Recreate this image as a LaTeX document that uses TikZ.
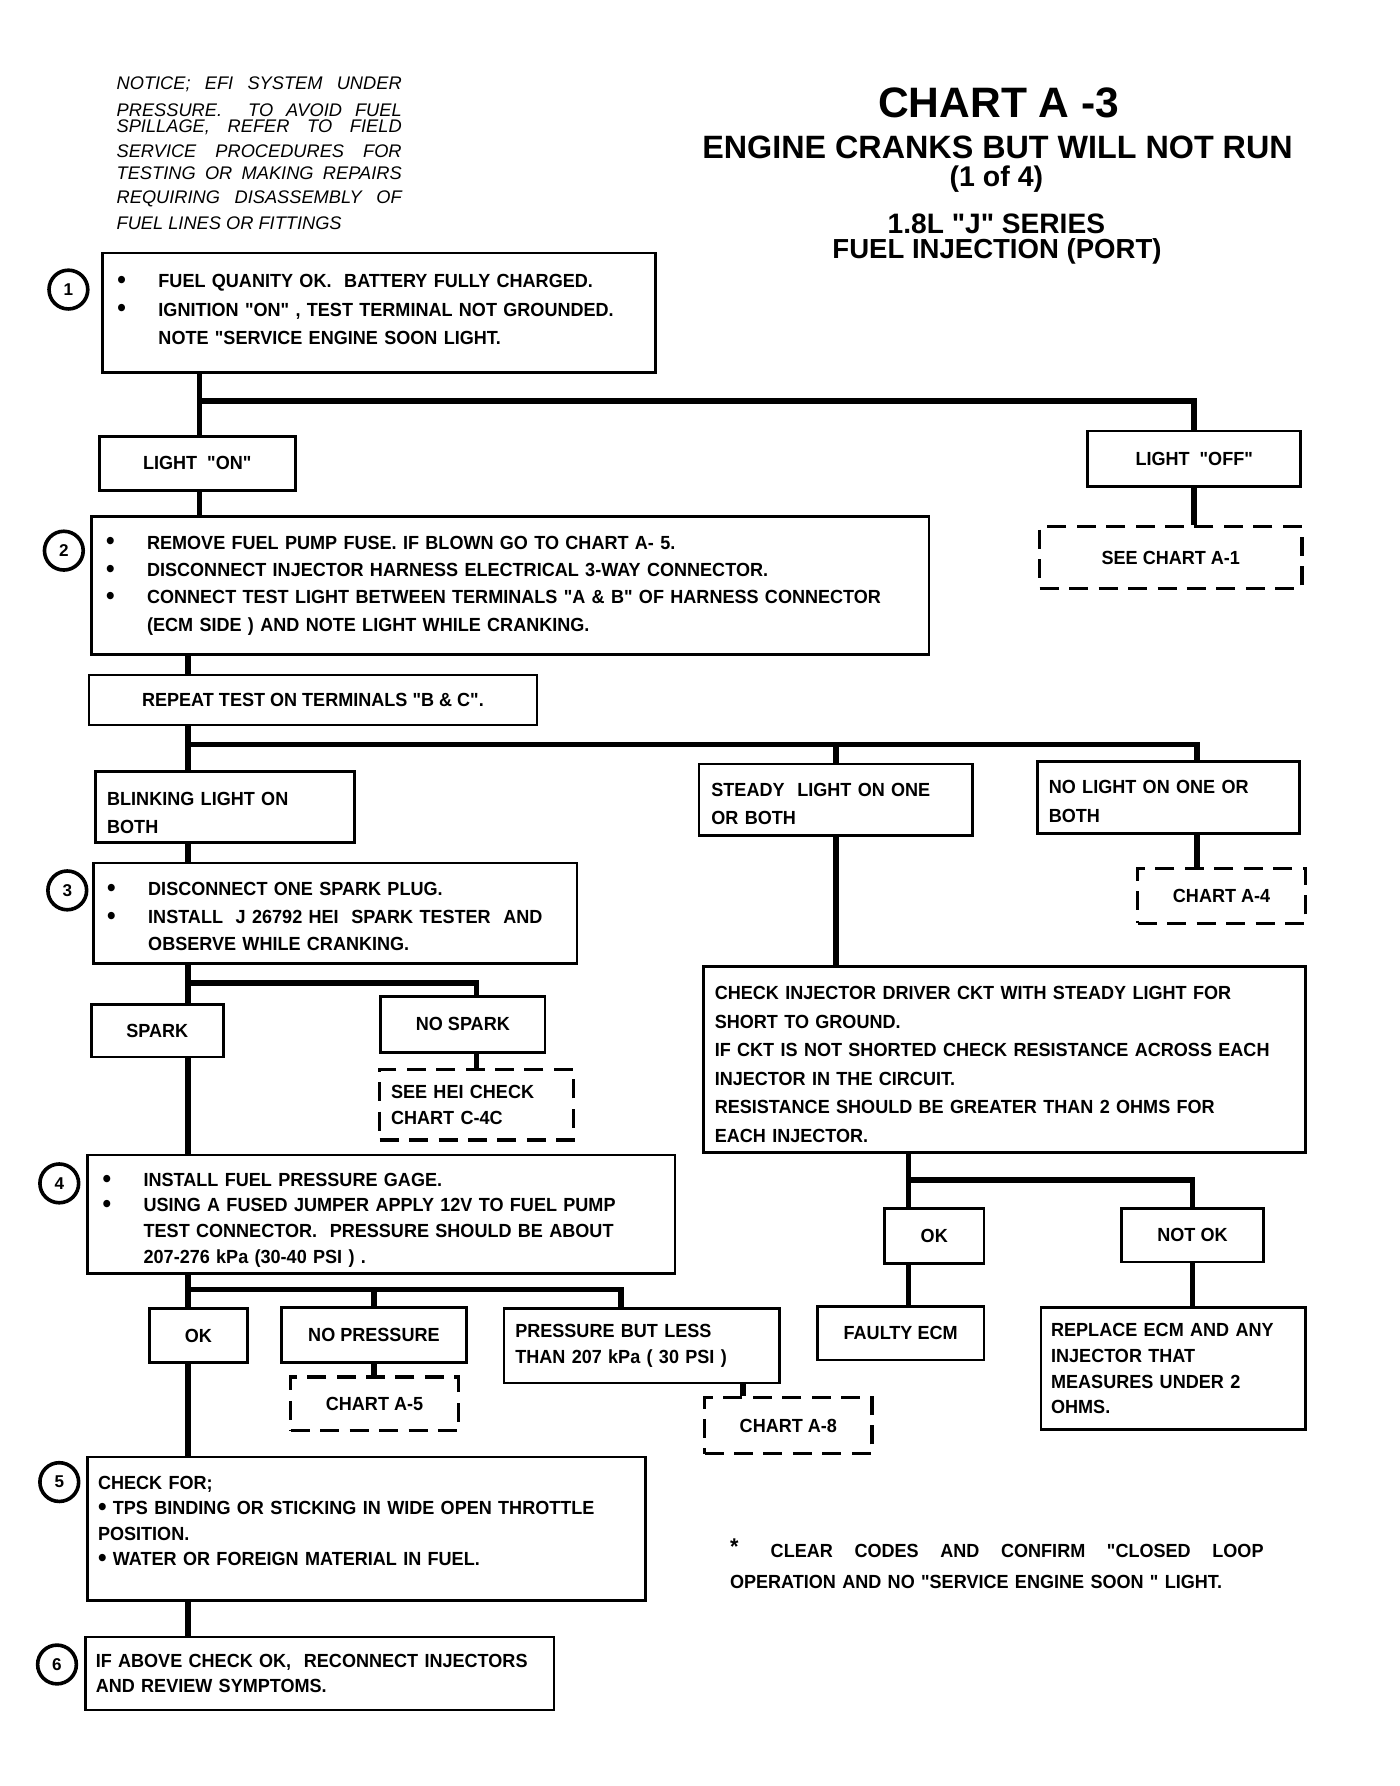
\documentclass[tikz,border=0pt]{standalone}
\usepackage{fontspec}
\setmainfont{Liberation Sans}[Ligatures=TeXOff]
\newfontfamily\boxfont{Liberation Sans}[FakeStretch=0.95,Ligatures=TeXOff]
\newlength\upx
\setlength\upx{0.6pt}
\newcommand\dotmark{\raisebox{-0.4pt}{\scalebox{1.35}{\textbullet}}}
\newcommand\bul{\makebox[36\upx][l]{\dotmark}}
\newcommand\ind{\hspace*{36\upx}}
\newcommand\jline[1]{\makebox[250\upx][s]{#1}}
\newcommand\lift[1]{\rule{0pt}{#1}}
\newcommand\sink[1]{\rule[-#1]{0pt}{#1}}

\begin{document}
\begin{tikzpicture}[x=0.6pt,y=-0.6pt,
  box/.style={draw,line width=1.4pt,inner xsep=0pt,inner ysep=0pt,
    font=\boxfont\bfseries\fontsize{10}{14.4}\selectfont},
  tbox/.style={box,align=left},
  cbox/.style={box,align=center},
  dbox/.style={cbox,dash pattern=on 10pt off 5.5pt,line width=1.8pt},
  tight/.style={font=\boxfont\bfseries\fontsize{10}{13.5}\selectfont},
  wide/.style={font=\boxfont\bfseries\fontsize{10}{15}\selectfont},
  link/.style={line width=3pt},
  num/.style={circle,draw,line width=1.9pt,minimum size=20.4pt,inner sep=0pt,
    font=\bfseries\fontsize{9}{9}\selectfont}]
  \useasboundingbox (0,0) rectangle (1228,1566.6);
  % Heading and notice
  \node[anchor=north west,inner sep=0pt,align=left,
    font=\itshape\fontsize{9.6}{12}\selectfont] (notice) at (102,67)
    {\jline{NOTICE; EFI SYSTEM UNDER}\\[2.4pt]
     \jline{PRESSURE. \ TO AVOID FUEL}\\[-3.6pt]
     \jline{SPILLAGE, REFER TO FIELD}\\[1.2pt]
     \jline{SERVICE PROCEDURES FOR}\\[-0.6pt]
     \jline{TESTING OR MAKING REPAIRS}\\[0.6pt]
     \jline{REQUIRING DISASSEMBLY OF}\\[1.8pt]
     FUEL LINES OR FITTINGS};
  \node[anchor=base,inner sep=0pt,font=\bfseries\fontsize{22.4}{24}\selectfont]
    (chart) at (876,103) {CHART A -3};
  \node[anchor=base,inner sep=0pt,font=\bfseries\fontsize{17}{18}\selectfont]
    (title) at (875,139) {ENGINE CRANKS BUT WILL NOT RUN};
  \node[anchor=base,inner sep=0pt,font=\bfseries\fontsize{15}{18}\selectfont]
    (part) at (874,164) {(1 of 4)};
  \node[anchor=base,inner sep=0pt,font=\bfseries\fontsize{14.8}{16}\selectfont]
    (series) at (874,205) {1.8L "J" SERIES};
  \node[anchor=base,inner sep=0pt,font=\bfseries\fontsize{14.5}{16}\selectfont]
    (inj) at (874.5,227) {FUEL INJECTION (PORT)};
  % Step numbers
  \node[num] (c1) at (60,254) {1};
  \node[num] (c2) at (56,483) {2};
  \node[num] (c3) at (59,781) {3};
  \node[num] (c4) at (52,1038) {4};
  \node[num] (c5) at (52,1300) {5};
  \node[num] (c6) at (50,1460) {6};
  % Left column
  \node[tbox,wide,minimum width=485\upx,minimum height=105\upx,text width=459\upx] (s1) at (332.5,274.5)
    {\bul FUEL QUANITY OK. \ BATTERY FULLY CHARGED.\\
     \bul IGNITION "ON" , TEST TERMINAL NOT GROUNDED.\\
     \ind NOTE "SERVICE ENGINE SOON LIGHT.\sink{3.6pt}};
  \node[cbox,minimum width=172\upx,minimum height=47\upx] (lon) at (173,406.5) {LIGHT \ "ON"};
  \node[cbox,minimum width=187\upx,minimum height=49\upx] (loff) at (1047.5,402.5) {LIGHT \ "OFF"};
  \node[dbox,minimum width=230\upx,minimum height=54\upx] (seeA1) at (1027,489) {SEE CHART A-1};
  \node[tbox,minimum width=735\upx,minimum height=121\upx,text width=709\upx] (s2) at (447.5,513.5)
    {\bul REMOVE FUEL PUMP FUSE. IF BLOWN GO TO CHART A- 5.\\
     \bul DISCONNECT INJECTOR HARNESS ELECTRICAL 3-WAY CONNECTOR.\\
     \bul CONNECT TEST LIGHT BETWEEN TERMINALS "A \& B" OF HARNESS CONNECTOR\\
     \ind (ECM SIDE ) AND NOTE LIGHT WHILE CRANKING.};
  \node[cbox,minimum width=393\upx,minimum height=44\upx] (rep) at (274.5,614)
    {REPEAT TEST ON TERMINALS "B \& C".};
  \node[tbox,wide,minimum width=227\upx,minimum height=62\upx,text width=207\upx] (blink) at (197.5,708)
    {\lift{13.2pt}BLINKING LIGHT ON\\ BOTH};
  \node[tbox,wide,minimum width=240\upx,minimum height=63\upx,text width=218\upx] (steady) at (733,701.5)
    {\lift{11.4pt}STEADY \ LIGHT ON ONE\\ OR BOTH};
  \node[tbox,wide,minimum width=230\upx,minimum height=63\upx,text width=210\upx] (nolight) at (1025,699.5)
    {\lift{11.4pt}NO LIGHT ON ONE OR\\ BOTH};
  \node[dbox,minimum width=147\upx,minimum height=48\upx] (A4) at (1071.5,786) {CHART A-4};
  \node[tbox,minimum width=424\upx,minimum height=88\upx,text width=400\upx] (s3) at (294,801)
    {\lift{10.8pt}\bul DISCONNECT ONE SPARK PLUG.\\
     \bul INSTALL \ J 26792 HEI \ SPARK TESTER \ AND\\
     \ind OBSERVE WHILE CRANKING.};
  \node[cbox,minimum width=116\upx,minimum height=46\upx] (spark) at (138,904) {SPARK};
  \node[cbox,minimum width=144\upx,minimum height=49\upx] (nospark) at (406,898.5) {NO SPARK};
  \node[dbox,align=left,minimum width=170\upx,minimum height=62\upx,text width=150\upx,
    font=\boxfont\bfseries\fontsize{10}{13.8}\selectfont] (hei) at (418,969)
    {SEE HEI CHECK\\ CHART C-4C};
  \node[tbox,wide,minimum width=528\upx,minimum height=163\upx,text width=508\upx] (chk) at (881,929.5)
    {\lift{12pt}CHECK INJECTOR DRIVER CKT WITH STEADY LIGHT FOR\\
     SHORT TO GROUND.\\
     IF CKT IS NOT SHORTED CHECK RESISTANCE ACROSS EACH\\
     INJECTOR IN THE CIRCUIT.\\
     RESISTANCE SHOULD BE GREATER THAN 2 OHMS FOR\\
     EACH INJECTOR.};
  \node[tbox,tight,minimum width=515\upx,minimum height=104\upx,text width=489\upx] (s4) at (334.5,1065)
    {\lift{13.2pt}\bul INSTALL FUEL PRESSURE GAGE.\\
     \bul USING A FUSED JUMPER APPLY 12V TO FUEL PUMP\\
     \ind TEST CONNECTOR. \ PRESSURE SHOULD BE ABOUT\\
     \ind 207-276 kPa (30-40 PSI ) .};
  \node[cbox,minimum width=86\upx,minimum height=47\upx] (ok1) at (174,1171.5) {OK};
  \node[cbox,minimum width=162\upx,minimum height=48\upx] (nopress) at (328,1171) {NO PRESSURE};
  \node[tbox,tight,minimum width=242\upx,minimum height=65\upx,text width=222\upx] (less) at (563,1180.5)
    {PRESSURE BUT LESS\\ THAN 207 kPa ( 30 PSI )};
  \node[dbox,minimum width=147\upx,minimum height=47\upx] (A5) at (328.5,1231.5) {CHART A-5};
  \node[dbox,minimum width=147\upx,minimum height=49\upx] (A8) at (691.5,1250.5) {CHART A-8};
  \node[cbox,minimum width=87\upx,minimum height=48\upx] (ok2) at (819.5,1084) {OK};
  \node[cbox,minimum width=124\upx,minimum height=47\upx] (notok) at (1046,1083.5) {NOT OK};
  \node[cbox,minimum width=146\upx,minimum height=47\upx] (faulty) at (790,1169.5) {FAULTY ECM};
  \node[tbox,tight,minimum width=232\upx,minimum height=107\upx,text width=214\upx] (repl) at (1029,1200.5)
    {REPLACE ECM AND ANY\\ INJECTOR THAT\\ MEASURES UNDER 2\\ OHMS.};
  \node[tbox,tight,minimum width=489\upx,minimum height=126\upx,text width=471\upx] (s5) at (321.5,1341)
    {CHECK FOR;\\
     \dotmark\ TPS BINDING OR STICKING IN WIDE OPEN THROTTLE\\
     POSITION.\\
     \dotmark\ WATER OR FOREIGN MATERIAL IN FUEL.\sink{8.4pt}};
  \node[tbox,tight,minimum width=411\upx,minimum height=64\upx,text width=393\upx] (s6) at (280.5,1468)
    {IF ABOVE CHECK OK, \ RECONNECT INJECTORS\\ AND REVIEW SYMPTOMS.};
  % Footnote
  \node[anchor=north west,inner sep=0pt,align=left,text width=468\upx,
    font=\boxfont\bfseries\fontsize{10}{16.2}\selectfont] (note) at (640,1349)
    {\makebox[468\upx][l]{\raisebox{2pt}{\large *}\hspace{17pt}CLEAR\hfill CODES\hfill
       AND\hfill CONFIRM\hfill "CLOSED\hfill LOOP}\\
     OPERATION AND NO "SERVICE ENGINE SOON " LIGHT.};
  % Connectors
  \coordinate (j1) at (175,352);
  \draw[link] (j1 |- s1.south) -- (j1 |- lon.north);
  \draw[link] (j1) -| (loff.north);
  \draw[link] (j1 |- lon.south) -- (j1 |- s2.north);
  \draw[link] (loff.south) -- (loff.south |- seeA1.north);
  \coordinate (j2) at (165,653);
  \coordinate (j2r) at (1050,653);
  \draw[link] (j2 |- s2.south) -- (j2 |- rep.north);
  \draw[link] (j2 |- rep.south) -- (j2 |- blink.north);
  \draw[link] (j2) -- (j2r) -- (j2r |- nolight.north);
  \draw[link] (steady.north |- j2) -- (steady.north);
  \draw[link] (j2r |- nolight.south) -- (j2r |- A4.north);
  \draw[link] (steady.south) -- (steady.south |- chk.north);
  \draw[link] (j2 |- blink.south) -- (j2 |- s3.north);
  \coordinate (j3) at (165,862);
  \coordinate (j3r) at (418,862);
  \draw[link] (j3 |- s3.south) -- (j3 |- spark.north);
  \draw[link] (j3) -- (j3r) -- (j3r |- nospark.north);
  \draw[link] (j3r |- nospark.south) -- (j3r |- hei.north);
  \draw[link] (j3 |- spark.south) -- (j3 |- s4.north);
  \coordinate (j4) at (165,1131);
  \coordinate (j4r) at (545,1131);
  \draw[link] (j4 |- s4.south) -- (j4 |- ok1.north);
  \draw[link] (j4) -- (j4r) -- (j4r |- less.north);
  \draw[link] (nopress.north |- j4) -- (nopress.north);
  \draw[link] (nopress.south) -- (nopress.south |- A5.north);
  \coordinate (j6) at (652,1220);
  \draw[link] (j6 |- less.south) -- (j6 |- A8.north);
  \draw[link] (j4 |- ok1.south) -- (j4 |- s5.north);
  \draw[link] (j4 |- s5.south) -- (j4 |- s6.north);
  \coordinate (j5) at (797,1035);
  \draw[link] (j5 |- chk.south) -- (j5 |- ok2.north);
  \draw[link] (j5) -| (notok.north);
  \draw[link] (j5 |- ok2.south) -- (j5 |- faulty.north);
  \draw[link] (notok.south) -- (notok.south |- repl.north);
\end{tikzpicture}
\end{document}
